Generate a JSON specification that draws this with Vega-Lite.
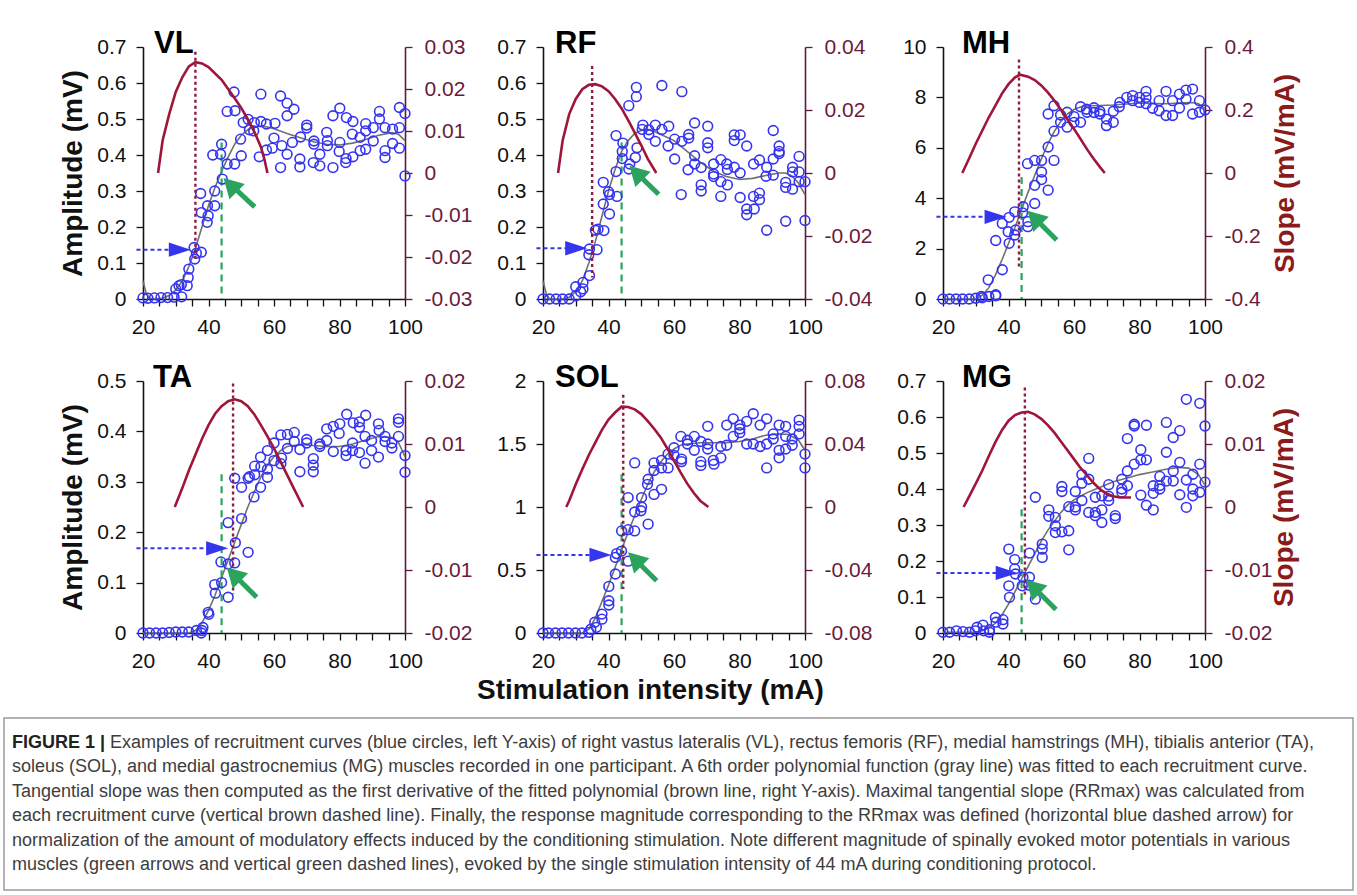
{
"$schema":"https://vega.github.io/schema/vega-lite/v6.json",
"background":"white",
"padding":{"left":3,"right":4,"top":28,"bottom":7},
"autosize":{"type":"pad"},
"config":{
 "view":{"stroke":null},
 "font":"Liberation Sans",
 "axis":{"grid":false,"labelFont":"Liberation Sans","labelFontSize":21,"labelColor":"#111","titleFont":"Liberation Sans","titleFontSize":28,"titleFontWeight":"bold","titleColor":"#111","domainColor":"#111","domainWidth":1.6,"tickColor":"#111","tickWidth":1.3,"tickSize":7,"labelPadding":10,"labelOverlap":false,"labelFlush":false,"tickCount":30},
 "axisX":{"labelFlush":false}
},
"datasets":{
"ann":[
{"m":"VL","rrx":36,"rrtop":0.687,"rrbot":0.106,"ay":0.137,"ax0":18,"ax1":31,"atip":34.6,"gx":44,"gtop":0.435,"gbot":0,"gtx":44.6,"gty":0.336,"gsx":54.1,"gsy":0.256,"gex":47.45,"gey":0.312},
{"m":"RF","rrx":35,"rrtop":0.647,"rrbot":0.06,"ay":0.141,"ax0":18,"ax1":30,"atip":33.5,"gx":44,"gtop":0.435,"gbot":0,"gtx":46.4,"gty":0.37,"gsx":55.3,"gsy":0.291,"gex":49.07,"gey":0.346},
{"m":"MH","rrx":43.2,"rrtop":9.5,"rrbot":1.29,"ay":3.26,"ax0":18,"ax1":36,"atip":39.4,"gx":44,"gtop":4.84,"gbot":0,"gtx":45.8,"gty":3.5,"gsx":54.7,"gsy":2.34,"gex":48.47,"gey":3.15},
{"m":"TA","rrx":47.5,"rrtop":0.495,"rrbot":0.077,"ay":0.168,"ax0":18,"ax1":42,"atip":46,"gx":44,"gtop":0.315,"gbot":0,"gtx":45.6,"gty":0.13,"gsx":54.7,"gsy":0.071,"gex":48.33,"gey":0.112},
{"m":"SOL","rrx":44.5,"rrtop":1.89,"rrbot":0.35,"ay":0.62,"ax0":18,"ax1":37,"atip":40.9,"gx":44,"gtop":1.26,"gbot":0,"gtx":46,"gty":0.64,"gsx":54.7,"gsy":0.415,"gex":48.61,"gey":0.572},
{"m":"MG","rrx":45,"rrtop":0.682,"rrbot":0.104,"ay":0.167,"ax0":18,"ax1":39,"atip":42.8,"gx":44,"gtop":0.344,"gbot":0,"gtx":45.4,"gty":0.148,"gsx":54.5,"gsy":0.065,"gex":48.13,"gey":0.123}
],
"fit":[
{"m":"VL","x":20,"y":0.05},{"m":"VL","x":21,"y":0.015},{"m":"VL","x":22,"y":0.002},{"m":"VL","x":24,"y":0},{"m":"VL","x":26,"y":0.003},{"m":"VL","x":28,"y":0.01},{"m":"VL","x":30,"y":0.025},{"m":"VL","x":32,"y":0.05},{"m":"VL","x":34,"y":0.09},{"m":"VL","x":36,"y":0.14},{"m":"VL","x":38,"y":0.2},{"m":"VL","x":40,"y":0.26},{"m":"VL","x":42,"y":0.31},{"m":"VL","x":44,"y":0.355},{"m":"VL","x":46,"y":0.395},{"m":"VL","x":48,"y":0.43},{"m":"VL","x":50,"y":0.455},{"m":"VL","x":52,"y":0.47},{"m":"VL","x":54,"y":0.478},{"m":"VL","x":56,"y":0.48},{"m":"VL","x":58,"y":0.478},{"m":"VL","x":60,"y":0.473},{"m":"VL","x":64,"y":0.46},{"m":"VL","x":68,"y":0.448},{"m":"VL","x":72,"y":0.437},{"m":"VL","x":76,"y":0.43},{"m":"VL","x":80,"y":0.428},{"m":"VL","x":84,"y":0.433},{"m":"VL","x":88,"y":0.443},{"m":"VL","x":92,"y":0.455},{"m":"VL","x":96,"y":0.462},{"m":"VL","x":98,"y":0.458},{"m":"VL","x":100,"y":0.44},
{"m":"RF","x":20,"y":0.05},{"m":"RF","x":21,"y":0.015},{"m":"RF","x":22,"y":0},{"m":"RF","x":26,"y":0},{"m":"RF","x":28,"y":0.005},{"m":"RF","x":30,"y":0.02},{"m":"RF","x":32,"y":0.05},{"m":"RF","x":34,"y":0.1},{"m":"RF","x":36,"y":0.16},{"m":"RF","x":38,"y":0.23},{"m":"RF","x":40,"y":0.3},{"m":"RF","x":42,"y":0.36},{"m":"RF","x":44,"y":0.41},{"m":"RF","x":46,"y":0.44},{"m":"RF","x":48,"y":0.46},{"m":"RF","x":50,"y":0.468},{"m":"RF","x":52,"y":0.47},{"m":"RF","x":54,"y":0.465},{"m":"RF","x":56,"y":0.457},{"m":"RF","x":60,"y":0.44},{"m":"RF","x":64,"y":0.41},{"m":"RF","x":68,"y":0.38},{"m":"RF","x":72,"y":0.355},{"m":"RF","x":76,"y":0.34},{"m":"RF","x":80,"y":0.332},{"m":"RF","x":84,"y":0.335},{"m":"RF","x":88,"y":0.343},{"m":"RF","x":92,"y":0.35},{"m":"RF","x":94,"y":0.35},{"m":"RF","x":96,"y":0.342},{"m":"RF","x":98,"y":0.322},{"m":"RF","x":100,"y":0.29},
{"m":"MH","x":20,"y":0},{"m":"MH","x":30,"y":0},{"m":"MH","x":32,"y":0.15},{"m":"MH","x":34,"y":0.45},{"m":"MH","x":36,"y":0.95},{"m":"MH","x":38,"y":1.55},{"m":"MH","x":40,"y":2.2},{"m":"MH","x":42,"y":2.85},{"m":"MH","x":44,"y":3.55},{"m":"MH","x":46,"y":4.25},{"m":"MH","x":48,"y":4.9},{"m":"MH","x":50,"y":5.55},{"m":"MH","x":52,"y":6.15},{"m":"MH","x":54,"y":6.65},{"m":"MH","x":56,"y":7.05},{"m":"MH","x":58,"y":7.35},{"m":"MH","x":60,"y":7.52},{"m":"MH","x":62,"y":7.62},{"m":"MH","x":64,"y":7.67},{"m":"MH","x":68,"y":7.68},{"m":"MH","x":72,"y":7.7},{"m":"MH","x":76,"y":7.74},{"m":"MH","x":80,"y":7.78},{"m":"MH","x":84,"y":7.76},{"m":"MH","x":88,"y":7.75},{"m":"MH","x":92,"y":7.78},{"m":"MH","x":96,"y":7.8},{"m":"MH","x":98,"y":7.75},{"m":"MH","x":100,"y":7.55},
{"m":"TA","x":20,"y":0},{"m":"TA","x":34,"y":0},{"m":"TA","x":36,"y":0.005},{"m":"TA","x":38,"y":0.02},{"m":"TA","x":40,"y":0.045},{"m":"TA","x":42,"y":0.075},{"m":"TA","x":44,"y":0.11},{"m":"TA","x":46,"y":0.145},{"m":"TA","x":48,"y":0.18},{"m":"TA","x":50,"y":0.215},{"m":"TA","x":52,"y":0.25},{"m":"TA","x":54,"y":0.28},{"m":"TA","x":56,"y":0.31},{"m":"TA","x":58,"y":0.333},{"m":"TA","x":60,"y":0.35},{"m":"TA","x":62,"y":0.362},{"m":"TA","x":64,"y":0.37},{"m":"TA","x":68,"y":0.374},{"m":"TA","x":72,"y":0.372},{"m":"TA","x":76,"y":0.37},{"m":"TA","x":80,"y":0.37},{"m":"TA","x":84,"y":0.375},{"m":"TA","x":88,"y":0.383},{"m":"TA","x":92,"y":0.39},{"m":"TA","x":96,"y":0.388},{"m":"TA","x":98,"y":0.378},{"m":"TA","x":100,"y":0.35},
{"m":"SOL","x":20,"y":0},{"m":"SOL","x":32,"y":0},{"m":"SOL","x":34,"y":0.03},{"m":"SOL","x":36,"y":0.12},{"m":"SOL","x":38,"y":0.25},{"m":"SOL","x":40,"y":0.38},{"m":"SOL","x":42,"y":0.52},{"m":"SOL","x":44,"y":0.66},{"m":"SOL","x":46,"y":0.8},{"m":"SOL","x":48,"y":0.93},{"m":"SOL","x":50,"y":1.06},{"m":"SOL","x":52,"y":1.18},{"m":"SOL","x":54,"y":1.28},{"m":"SOL","x":56,"y":1.36},{"m":"SOL","x":58,"y":1.42},{"m":"SOL","x":60,"y":1.46},{"m":"SOL","x":62,"y":1.49},{"m":"SOL","x":64,"y":1.5},{"m":"SOL","x":68,"y":1.51},{"m":"SOL","x":72,"y":1.51},{"m":"SOL","x":76,"y":1.51},{"m":"SOL","x":80,"y":1.52},{"m":"SOL","x":84,"y":1.54},{"m":"SOL","x":88,"y":1.57},{"m":"SOL","x":92,"y":1.58},{"m":"SOL","x":95,"y":1.575},{"m":"SOL","x":98,"y":1.53},{"m":"SOL","x":100,"y":1.45},
{"m":"MG","x":20,"y":0.002},{"m":"MG","x":30,"y":0.002},{"m":"MG","x":32,"y":0.006},{"m":"MG","x":34,"y":0.014},{"m":"MG","x":36,"y":0.027},{"m":"MG","x":38,"y":0.05},{"m":"MG","x":40,"y":0.08},{"m":"MG","x":42,"y":0.115},{"m":"MG","x":44,"y":0.15},{"m":"MG","x":46,"y":0.185},{"m":"MG","x":48,"y":0.22},{"m":"MG","x":50,"y":0.255},{"m":"MG","x":52,"y":0.285},{"m":"MG","x":54,"y":0.31},{"m":"MG","x":56,"y":0.335},{"m":"MG","x":58,"y":0.355},{"m":"MG","x":60,"y":0.37},{"m":"MG","x":62,"y":0.38},{"m":"MG","x":64,"y":0.39},{"m":"MG","x":68,"y":0.405},{"m":"MG","x":72,"y":0.42},{"m":"MG","x":76,"y":0.43},{"m":"MG","x":80,"y":0.44},{"m":"MG","x":84,"y":0.447},{"m":"MG","x":88,"y":0.455},{"m":"MG","x":92,"y":0.46},{"m":"MG","x":95,"y":0.458},{"m":"MG","x":98,"y":0.44},{"m":"MG","x":100,"y":0.41}
],
"slope":[
{"m":"VL","x":24.6,"s":0},{"m":"VL","x":26,"s":0.0078},{"m":"VL","x":28,"s":0.014},{"m":"VL","x":30,"s":0.0193},{"m":"VL","x":32,"s":0.0228},{"m":"VL","x":34,"s":0.0254},{"m":"VL","x":36,"s":0.0264},{"m":"VL","x":38,"s":0.0261},{"m":"VL","x":40,"s":0.0252},{"m":"VL","x":44,"s":0.0222},{"m":"VL","x":48,"s":0.0178},{"m":"VL","x":50,"s":0.0155},{"m":"VL","x":52,"s":0.0128},{"m":"VL","x":54,"s":0.0098},{"m":"VL","x":56,"s":0.0062},{"m":"VL","x":57,"s":0.0035},{"m":"VL","x":58,"s":0},
{"m":"RF","x":24.6,"s":0},{"m":"RF","x":26,"s":0.0103},{"m":"RF","x":28,"s":0.0187},{"m":"RF","x":30,"s":0.0235},{"m":"RF","x":32,"s":0.0266},{"m":"RF","x":34,"s":0.028},{"m":"RF","x":36,"s":0.0282},{"m":"RF","x":38,"s":0.0275},{"m":"RF","x":40,"s":0.026},{"m":"RF","x":42,"s":0.0235},{"m":"RF","x":44,"s":0.0205},{"m":"RF","x":46,"s":0.0168},{"m":"RF","x":48,"s":0.0128},{"m":"RF","x":50,"s":0.0088},{"m":"RF","x":52,"s":0.0045},{"m":"RF","x":54.6,"s":0},
{"m":"MH","x":25.9,"s":0},{"m":"MH","x":28,"s":0.047},{"m":"MH","x":30,"s":0.093},{"m":"MH","x":32,"s":0.135},{"m":"MH","x":34,"s":0.177},{"m":"MH","x":36,"s":0.214},{"m":"MH","x":38,"s":0.252},{"m":"MH","x":40,"s":0.282},{"m":"MH","x":42,"s":0.304},{"m":"MH","x":43.5,"s":0.312},{"m":"MH","x":46,"s":0.306},{"m":"MH","x":48,"s":0.295},{"m":"MH","x":50,"s":0.278},{"m":"MH","x":52,"s":0.256},{"m":"MH","x":54,"s":0.23},{"m":"MH","x":56,"s":0.201},{"m":"MH","x":58,"s":0.17},{"m":"MH","x":60,"s":0.14},{"m":"MH","x":62,"s":0.108},{"m":"MH","x":64,"s":0.075},{"m":"MH","x":66,"s":0.045},{"m":"MH","x":68,"s":0.018},{"m":"MH","x":69.4,"s":0},
{"m":"TA","x":29.7,"s":0},{"m":"TA","x":32,"s":0.003},{"m":"TA","x":34,"s":0.0058},{"m":"TA","x":36,"s":0.0083},{"m":"TA","x":38,"s":0.0108},{"m":"TA","x":40,"s":0.013},{"m":"TA","x":42,"s":0.0148},{"m":"TA","x":44,"s":0.016},{"m":"TA","x":46,"s":0.0168},{"m":"TA","x":48,"s":0.0171},{"m":"TA","x":50,"s":0.0168},{"m":"TA","x":52,"s":0.016},{"m":"TA","x":54,"s":0.0147},{"m":"TA","x":56,"s":0.013},{"m":"TA","x":58,"s":0.0112},{"m":"TA","x":60,"s":0.0093},{"m":"TA","x":62,"s":0.0072},{"m":"TA","x":64,"s":0.0051},{"m":"TA","x":66,"s":0.003},{"m":"TA","x":68.9,"s":0},
{"m":"SOL","x":27.1,"s":0},{"m":"SOL","x":28,"s":0.004},{"m":"SOL","x":30,"s":0.0145},{"m":"SOL","x":32,"s":0.024},{"m":"SOL","x":34,"s":0.033},{"m":"SOL","x":36,"s":0.041},{"m":"SOL","x":38,"s":0.049},{"m":"SOL","x":40,"s":0.0555},{"m":"SOL","x":42,"s":0.06},{"m":"SOL","x":44,"s":0.0637},{"m":"SOL","x":46,"s":0.0635},{"m":"SOL","x":48,"s":0.062},{"m":"SOL","x":50,"s":0.059},{"m":"SOL","x":52,"s":0.0545},{"m":"SOL","x":54,"s":0.0495},{"m":"SOL","x":56,"s":0.044},{"m":"SOL","x":58,"s":0.037},{"m":"SOL","x":60,"s":0.0295},{"m":"SOL","x":62,"s":0.022},{"m":"SOL","x":64,"s":0.015},{"m":"SOL","x":66,"s":0.009},{"m":"SOL","x":68,"s":0.004},{"m":"SOL","x":70.5,"s":0},
{"m":"MG","x":26.3,"s":0},{"m":"MG","x":28,"s":0.0017},{"m":"MG","x":30,"s":0.0037},{"m":"MG","x":32,"s":0.0058},{"m":"MG","x":34,"s":0.0081},{"m":"MG","x":36,"s":0.0103},{"m":"MG","x":38,"s":0.0122},{"m":"MG","x":40,"s":0.0137},{"m":"MG","x":42,"s":0.0146},{"m":"MG","x":44,"s":0.015},{"m":"MG","x":46,"s":0.0151},{"m":"MG","x":48,"s":0.0147},{"m":"MG","x":50,"s":0.014},{"m":"MG","x":52,"s":0.013},{"m":"MG","x":54,"s":0.0118},{"m":"MG","x":56,"s":0.0104},{"m":"MG","x":58,"s":0.009},{"m":"MG","x":60,"s":0.0076},{"m":"MG","x":62,"s":0.0062},{"m":"MG","x":64,"s":0.005},{"m":"MG","x":66,"s":0.0038},{"m":"MG","x":68,"s":0.0028},{"m":"MG","x":70,"s":0.0021},{"m":"MG","x":72,"s":0.0017},{"m":"MG","x":74,"s":0.0015},{"m":"MG","x":77.4,"s":0.0015}
],
"pts":[
{"m":"VL","x":20,"y":0.003},{"m":"VL","x":21.5,"y":0.002},{"m":"VL","x":23.5,"y":0.003},{"m":"VL","x":25.5,"y":0.004},{"m":"VL","x":27.5,"y":0.004},{"m":"VL","x":29.5,"y":0.005},{"m":"VL","x":31.8,"y":0.006},{"m":"VL","x":30,"y":0.028},{"m":"VL","x":31,"y":0.037},{"m":"VL","x":31.7,"y":0.04},{"m":"VL","x":33.5,"y":0.037},{"m":"VL","x":33.8,"y":0.06},{"m":"VL","x":34,"y":0.083},{"m":"VL","x":35.8,"y":0.111},{"m":"VL","x":35.6,"y":0.143},{"m":"VL","x":36.3,"y":0.127},{"m":"VL","x":37.8,"y":0.13},{"m":"VL","x":37.6,"y":0.293},{"m":"VL","x":37.8,"y":0.24},{"m":"VL","x":39.7,"y":0.259},{"m":"VL","x":39.9,"y":0.231},{"m":"VL","x":39.6,"y":0.213},{"m":"VL","x":41.9,"y":0.259},{"m":"VL","x":41.9,"y":0.3},{"m":"VL","x":41.3,"y":0.4},{"m":"VL","x":43.7,"y":0.402},{"m":"VL","x":44,"y":0.43},{"m":"VL","x":44.2,"y":0.333},{"m":"VL","x":45.7,"y":0.375},{"m":"VL","x":45.7,"y":0.521},{"m":"VL","x":47.8,"y":0.575},{"m":"VL","x":48.1,"y":0.523},{"m":"VL","x":48,"y":0.375},{"m":"VL","x":49.8,"y":0.444},{"m":"VL","x":50,"y":0.398},{"m":"VL","x":50.6,"y":0.49},{"m":"VL","x":52.1,"y":0.499},{"m":"VL","x":52.5,"y":0.47},{"m":"VL","x":53.8,"y":0.467},{"m":"VL","x":54,"y":0.49},{"m":"VL","x":56,"y":0.569},{"m":"VL","x":56,"y":0.493},{"m":"VL","x":57.7,"y":0.486},{"m":"VL","x":57.7,"y":0.414},{"m":"VL","x":55.5,"y":0.395},{"m":"VL","x":60.3,"y":0.488},{"m":"VL","x":60,"y":0.447},{"m":"VL","x":59.5,"y":0.419},{"m":"VL","x":62,"y":0.564},{"m":"VL","x":62.4,"y":0.426},{"m":"VL","x":62,"y":0.365},{"m":"VL","x":64,"y":0.544},{"m":"VL","x":64,"y":0.509},{"m":"VL","x":64,"y":0.402},{"m":"VL","x":65.6,"y":0.435},{"m":"VL","x":66.1,"y":0.527},{"m":"VL","x":67.9,"y":0.389},{"m":"VL","x":67.9,"y":0.367},{"m":"VL","x":68.1,"y":0.45},{"m":"VL","x":70,"y":0.483},{"m":"VL","x":70,"y":0.475},{"m":"VL","x":72.2,"y":0.439},{"m":"VL","x":72.2,"y":0.43},{"m":"VL","x":72,"y":0.379},{"m":"VL","x":74,"y":0.402},{"m":"VL","x":74,"y":0.37},{"m":"VL","x":76.1,"y":0.463},{"m":"VL","x":76.3,"y":0.426},{"m":"VL","x":76.3,"y":0.44},{"m":"VL","x":78,"y":0.509},{"m":"VL","x":78,"y":0.365},{"m":"VL","x":80.1,"y":0.53},{"m":"VL","x":80.1,"y":0.435},{"m":"VL","x":79.9,"y":0.41},{"m":"VL","x":82.1,"y":0.504},{"m":"VL","x":81.9,"y":0.379},{"m":"VL","x":82,"y":0.39},{"m":"VL","x":84.1,"y":0.493},{"m":"VL","x":83.9,"y":0.458},{"m":"VL","x":84.1,"y":0.395},{"m":"VL","x":86.3,"y":0.449},{"m":"VL","x":86.3,"y":0.412},{"m":"VL","x":88,"y":0.487},{"m":"VL","x":88,"y":0.467},{"m":"VL","x":88,"y":0.416},{"m":"VL","x":90.3,"y":0.476},{"m":"VL","x":90.3,"y":0.439},{"m":"VL","x":92.2,"y":0.521},{"m":"VL","x":92.2,"y":0.5},{"m":"VL","x":93.9,"y":0.476},{"m":"VL","x":93.9,"y":0.412},{"m":"VL","x":93.9,"y":0.393},{"m":"VL","x":96.2,"y":0.472},{"m":"VL","x":96.2,"y":0.432},{"m":"VL","x":98.3,"y":0.532},{"m":"VL","x":98.3,"y":0.476},{"m":"VL","x":98.3,"y":0.419},{"m":"VL","x":100,"y":0.515},{"m":"VL","x":100,"y":0.342},
{"m":"RF","x":20,"y":0},{"m":"RF","x":22,"y":0},{"m":"RF","x":24,"y":0},{"m":"RF","x":26,"y":0},{"m":"RF","x":28,"y":0},{"m":"RF","x":30,"y":0.009},{"m":"RF","x":30,"y":0.034},{"m":"RF","x":32.2,"y":0.046},{"m":"RF","x":32.2,"y":0.028},{"m":"RF","x":31.5,"y":0.02},{"m":"RF","x":34.2,"y":0.065},{"m":"RF","x":34,"y":0.123},{"m":"RF","x":34.2,"y":0.139},{"m":"RF","x":36.5,"y":0.137},{"m":"RF","x":36,"y":0.191},{"m":"RF","x":36.8,"y":0.194},{"m":"RF","x":38.6,"y":0.19},{"m":"RF","x":38.4,"y":0.264},{"m":"RF","x":38.4,"y":0.324},{"m":"RF","x":40.3,"y":0.29},{"m":"RF","x":40.3,"y":0.236},{"m":"RF","x":40,"y":0.298},{"m":"RF","x":42.6,"y":0.285},{"m":"RF","x":42.3,"y":0.354},{"m":"RF","x":42.3,"y":0.454},{"m":"RF","x":44.4,"y":0.433},{"m":"RF","x":44.2,"y":0.41},{"m":"RF","x":44.2,"y":0.39},{"m":"RF","x":46.2,"y":0.361},{"m":"RF","x":46.5,"y":0.375},{"m":"RF","x":48.2,"y":0.393},{"m":"RF","x":46.2,"y":0.537},{"m":"RF","x":48.5,"y":0.562},{"m":"RF","x":48.5,"y":0.588},{"m":"RF","x":48.7,"y":0.42},{"m":"RF","x":50.5,"y":0.483},{"m":"RF","x":50.3,"y":0.471},{"m":"RF","x":52.3,"y":0.457},{"m":"RF","x":52.3,"y":0.47},{"m":"RF","x":54.3,"y":0.483},{"m":"RF","x":54.3,"y":0.438},{"m":"RF","x":56.3,"y":0.471},{"m":"RF","x":56.3,"y":0.593},{"m":"RF","x":58.4,"y":0.48},{"m":"RF","x":58.2,"y":0.425},{"m":"RF","x":60.2,"y":0.444},{"m":"RF","x":60.2,"y":0.389},{"m":"RF","x":62.4,"y":0.438},{"m":"RF","x":62.2,"y":0.29},{"m":"RF","x":62.4,"y":0.576},{"m":"RF","x":64.5,"y":0.457},{"m":"RF","x":64.5,"y":0.447},{"m":"RF","x":64.3,"y":0.359},{"m":"RF","x":66.3,"y":0.489},{"m":"RF","x":66.3,"y":0.398},{"m":"RF","x":66.3,"y":0.375},{"m":"RF","x":68.3,"y":0.365},{"m":"RF","x":68.3,"y":0.317},{"m":"RF","x":68.3,"y":0.3},{"m":"RF","x":70.3,"y":0.48},{"m":"RF","x":70.3,"y":0.434},{"m":"RF","x":70.3,"y":0.42},{"m":"RF","x":72.1,"y":0.375},{"m":"RF","x":72.1,"y":0.347},{"m":"RF","x":72.1,"y":0.34},{"m":"RF","x":74.3,"y":0.387},{"m":"RF","x":74.3,"y":0.326},{"m":"RF","x":74.3,"y":0.285},{"m":"RF","x":76.1,"y":0.375},{"m":"RF","x":76.3,"y":0.317},{"m":"RF","x":76.3,"y":0.36},{"m":"RF","x":78.4,"y":0.456},{"m":"RF","x":78.4,"y":0.44},{"m":"RF","x":78.4,"y":0.366},{"m":"RF","x":80.2,"y":0.456},{"m":"RF","x":80.2,"y":0.35},{"m":"RF","x":80.2,"y":0.282},{"m":"RF","x":82.2,"y":0.425},{"m":"RF","x":82.2,"y":0.25},{"m":"RF","x":82.2,"y":0.234},{"m":"RF","x":84.3,"y":0.375},{"m":"RF","x":84.3,"y":0.285},{"m":"RF","x":84.5,"y":0.25},{"m":"RF","x":86.1,"y":0.386},{"m":"RF","x":86.1,"y":0.294},{"m":"RF","x":86.1,"y":0.276},{"m":"RF","x":88.3,"y":0.366},{"m":"RF","x":88.1,"y":0.341},{"m":"RF","x":88.3,"y":0.191},{"m":"RF","x":90.3,"y":0.468},{"m":"RF","x":90.3,"y":0.389},{"m":"RF","x":90.3,"y":0.344},{"m":"RF","x":92.1,"y":0.425},{"m":"RF","x":92.1,"y":0.404},{"m":"RF","x":92.1,"y":0.41},{"m":"RF","x":94.1,"y":0.324},{"m":"RF","x":94.1,"y":0.31},{"m":"RF","x":94.1,"y":0.216},{"m":"RF","x":96.2,"y":0.366},{"m":"RF","x":96.2,"y":0.353},{"m":"RF","x":96.2,"y":0.305},{"m":"RF","x":98.2,"y":0.396},{"m":"RF","x":98.2,"y":0.353},{"m":"RF","x":98.2,"y":0.326},{"m":"RF","x":100,"y":0.326},{"m":"RF","x":100,"y":0.218},
{"m":"MH","x":20,"y":0},{"m":"MH","x":22,"y":0},{"m":"MH","x":24,"y":0},{"m":"MH","x":26,"y":0},{"m":"MH","x":28,"y":0},{"m":"MH","x":30,"y":0.03},{"m":"MH","x":31.7,"y":0.1},{"m":"MH","x":32,"y":0.05},{"m":"MH","x":34,"y":0.1},{"m":"MH","x":36.1,"y":0.13},{"m":"MH","x":33.8,"y":0.76},{"m":"MH","x":36.1,"y":0.17},{"m":"MH","x":38.1,"y":1.16},{"m":"MH","x":36.1,"y":2.32},{"m":"MH","x":38.1,"y":3.0},{"m":"MH","x":40.2,"y":3.24},{"m":"MH","x":39.9,"y":2.67},{"m":"MH","x":40.2,"y":2.21},{"m":"MH","x":41.9,"y":3.46},{"m":"MH","x":42.2,"y":2.74},{"m":"MH","x":41.9,"y":2.54},{"m":"MH","x":44.5,"y":3.66},{"m":"MH","x":44.3,"y":3.42},{"m":"MH","x":45.9,"y":3.07},{"m":"MH","x":45.9,"y":2.87},{"m":"MH","x":45.8,"y":5.37},{"m":"MH","x":48,"y":5.5},{"m":"MH","x":48,"y":3.79},{"m":"MH","x":48,"y":4.51},{"m":"MH","x":50.1,"y":5.5},{"m":"MH","x":50.1,"y":5.04},{"m":"MH","x":50.1,"y":4.74},{"m":"MH","x":52.1,"y":6.03},{"m":"MH","x":52.1,"y":4.32},{"m":"MH","x":53.9,"y":5.5},{"m":"MH","x":53.9,"y":6.66},{"m":"MH","x":52.1,"y":7.34},{"m":"MH","x":53.9,"y":7.67},{"m":"MH","x":55.9,"y":7.01},{"m":"MH","x":55.9,"y":7.3},{"m":"MH","x":57.9,"y":7.41},{"m":"MH","x":57.9,"y":6.82},{"m":"MH","x":60,"y":7.24},{"m":"MH","x":60,"y":7.01},{"m":"MH","x":62,"y":7.63},{"m":"MH","x":62,"y":7.01},{"m":"MH","x":63.8,"y":7.53},{"m":"MH","x":64,"y":7.41},{"m":"MH","x":66.1,"y":7.59},{"m":"MH","x":66.1,"y":7.4},{"m":"MH","x":67.9,"y":7.45},{"m":"MH","x":67.9,"y":7.34},{"m":"MH","x":69.9,"y":7.14},{"m":"MH","x":69.9,"y":6.88},{"m":"MH","x":72,"y":7.45},{"m":"MH","x":72,"y":7.01},{"m":"MH","x":73.8,"y":7.63},{"m":"MH","x":74,"y":7.8},{"m":"MH","x":76.1,"y":8.0},{"m":"MH","x":77.9,"y":8.07},{"m":"MH","x":77.9,"y":7.87},{"m":"MH","x":80,"y":7.8},{"m":"MH","x":80,"y":8.0},{"m":"MH","x":82,"y":8.24},{"m":"MH","x":82,"y":8.0},{"m":"MH","x":82,"y":7.75},{"m":"MH","x":84,"y":7.57},{"m":"MH","x":86,"y":7.87},{"m":"MH","x":86,"y":7.47},{"m":"MH","x":88.1,"y":8.24},{"m":"MH","x":88.1,"y":7.28},{"m":"MH","x":90.1,"y":7.87},{"m":"MH","x":90.1,"y":7.28},{"m":"MH","x":92.2,"y":8.13},{"m":"MH","x":92.2,"y":7.58},{"m":"MH","x":94.2,"y":8.29},{"m":"MH","x":94.2,"y":7.93},{"m":"MH","x":96.2,"y":8.33},{"m":"MH","x":96.2,"y":7.34},{"m":"MH","x":98.3,"y":7.87},{"m":"MH","x":98.3,"y":7.41},{"m":"MH","x":100,"y":7.5},
{"m":"TA","x":20,"y":0},{"m":"TA","x":22,"y":0},{"m":"TA","x":24,"y":0},{"m":"TA","x":26,"y":0},{"m":"TA","x":28,"y":0.001},{"m":"TA","x":30,"y":0.002},{"m":"TA","x":32,"y":0.002},{"m":"TA","x":34,"y":0.002},{"m":"TA","x":36.3,"y":0.005},{"m":"TA","x":38,"y":0.005},{"m":"TA","x":38.3,"y":0.011},{"m":"TA","x":37.8,"y":0},{"m":"TA","x":39.9,"y":0.041},{"m":"TA","x":40.1,"y":0.037},{"m":"TA","x":42.1,"y":0.079},{"m":"TA","x":41.9,"y":0.096},{"m":"TA","x":44,"y":0.1},{"m":"TA","x":43.8,"y":0.141},{"m":"TA","x":46,"y":0.071},{"m":"TA","x":46,"y":0.137},{"m":"TA","x":46,"y":0.219},{"m":"TA","x":48,"y":0.139},{"m":"TA","x":48.2,"y":0.179},{"m":"TA","x":48,"y":0.307},{"m":"TA","x":50.1,"y":0.227},{"m":"TA","x":50.1,"y":0.289},{"m":"TA","x":52.1,"y":0.16},{"m":"TA","x":52.1,"y":0.307},{"m":"TA","x":52.5,"y":0.31},{"m":"TA","x":53.9,"y":0.27},{"m":"TA","x":54.1,"y":0.331},{"m":"TA","x":54.1,"y":0.314},{"m":"TA","x":55.9,"y":0.289},{"m":"TA","x":55.9,"y":0.349},{"m":"TA","x":56,"y":0.33},{"m":"TA","x":58,"y":0.309},{"m":"TA","x":58,"y":0.325},{"m":"TA","x":58,"y":0.362},{"m":"TA","x":60,"y":0.342},{"m":"TA","x":60,"y":0.377},{"m":"TA","x":62.3,"y":0.347},{"m":"TA","x":62.1,"y":0.336},{"m":"TA","x":62.1,"y":0.393},{"m":"TA","x":64.1,"y":0.394},{"m":"TA","x":64.1,"y":0.366},{"m":"TA","x":66.2,"y":0.398},{"m":"TA","x":66.2,"y":0.38},{"m":"TA","x":67.9,"y":0.364},{"m":"TA","x":67.9,"y":0.32},{"m":"TA","x":70,"y":0.384},{"m":"TA","x":70,"y":0.377},{"m":"TA","x":72,"y":0.346},{"m":"TA","x":72,"y":0.333},{"m":"TA","x":72,"y":0.32},{"m":"TA","x":74,"y":0.375},{"m":"TA","x":74,"y":0.37},{"m":"TA","x":76.1,"y":0.405},{"m":"TA","x":76.1,"y":0.382},{"m":"TA","x":78.1,"y":0.36},{"m":"TA","x":78.1,"y":0.41},{"m":"TA","x":80.1,"y":0.415},{"m":"TA","x":79.9,"y":0.396},{"m":"TA","x":82.2,"y":0.434},{"m":"TA","x":82,"y":0.362},{"m":"TA","x":82,"y":0.352},{"m":"TA","x":84.2,"y":0.417},{"m":"TA","x":84,"y":0.377},{"m":"TA","x":84,"y":0.362},{"m":"TA","x":86.1,"y":0.419},{"m":"TA","x":86.1,"y":0.408},{"m":"TA","x":86.1,"y":0.358},{"m":"TA","x":88,"y":0.432},{"m":"TA","x":87.8,"y":0.39},{"m":"TA","x":87.8,"y":0.337},{"m":"TA","x":89.8,"y":0.382},{"m":"TA","x":89.8,"y":0.362},{"m":"TA","x":91.9,"y":0.415},{"m":"TA","x":92.1,"y":0.402},{"m":"TA","x":91.9,"y":0.349},{"m":"TA","x":93.9,"y":0.39},{"m":"TA","x":93.9,"y":0.38},{"m":"TA","x":96,"y":0.377},{"m":"TA","x":96,"y":0.367},{"m":"TA","x":98,"y":0.425},{"m":"TA","x":98,"y":0.418},{"m":"TA","x":98,"y":0.39},{"m":"TA","x":100,"y":0.352},{"m":"TA","x":100,"y":0.319},
{"m":"SOL","x":20,"y":0},{"m":"SOL","x":21.7,"y":0},{"m":"SOL","x":23.8,"y":0},{"m":"SOL","x":25.8,"y":0},{"m":"SOL","x":27.8,"y":0},{"m":"SOL","x":29.9,"y":0},{"m":"SOL","x":31.9,"y":0},{"m":"SOL","x":34,"y":0.005},{"m":"SOL","x":34.6,"y":0.03},{"m":"SOL","x":35.8,"y":0.085},{"m":"SOL","x":36.3,"y":0.045},{"m":"SOL","x":38,"y":0.11},{"m":"SOL","x":38,"y":0.15},{"m":"SOL","x":40.1,"y":0.256},{"m":"SOL","x":40.1,"y":0.222},{"m":"SOL","x":40.1,"y":0.37},{"m":"SOL","x":42.1,"y":0.468},{"m":"SOL","x":42.1,"y":0.6},{"m":"SOL","x":42.5,"y":0.63},{"m":"SOL","x":44,"y":0.81},{"m":"SOL","x":44,"y":0.65},{"m":"SOL","x":46,"y":1.075},{"m":"SOL","x":46,"y":0.82},{"m":"SOL","x":46,"y":0.57},{"m":"SOL","x":48,"y":1.35},{"m":"SOL","x":48,"y":0.81},{"m":"SOL","x":48,"y":0.96},{"m":"SOL","x":49.9,"y":0.97},{"m":"SOL","x":50.1,"y":1.075},{"m":"SOL","x":50.1,"y":1.0},{"m":"SOL","x":51.9,"y":1.18},{"m":"SOL","x":52.1,"y":1.22},{"m":"SOL","x":52.1,"y":0.864},{"m":"SOL","x":53.9,"y":1.35},{"m":"SOL","x":53.9,"y":1.29},{"m":"SOL","x":53.9,"y":1.1},{"m":"SOL","x":56.2,"y":1.37},{"m":"SOL","x":56.2,"y":1.14},{"m":"SOL","x":56.2,"y":1.31},{"m":"SOL","x":58.2,"y":1.42},{"m":"SOL","x":58.2,"y":1.31},{"m":"SOL","x":60,"y":1.47},{"m":"SOL","x":60,"y":1.41},{"m":"SOL","x":62.1,"y":1.56},{"m":"SOL","x":62.3,"y":1.38},{"m":"SOL","x":62.3,"y":1.36},{"m":"SOL","x":64.1,"y":1.53},{"m":"SOL","x":64.1,"y":1.5},{"m":"SOL","x":66.2,"y":1.56},{"m":"SOL","x":66.2,"y":1.45},{"m":"SOL","x":68.2,"y":1.52},{"m":"SOL","x":68.2,"y":1.36},{"m":"SOL","x":68.2,"y":1.33},{"m":"SOL","x":70.3,"y":1.64},{"m":"SOL","x":70.3,"y":1.5},{"m":"SOL","x":70.3,"y":1.46},{"m":"SOL","x":72,"y":1.37},{"m":"SOL","x":72.2,"y":1.34},{"m":"SOL","x":74.3,"y":1.48},{"m":"SOL","x":74.3,"y":1.39},{"m":"SOL","x":76.1,"y":1.65},{"m":"SOL","x":76.1,"y":1.49},{"m":"SOL","x":78.1,"y":1.7},{"m":"SOL","x":78.1,"y":1.56},{"m":"SOL","x":80.1,"y":1.65},{"m":"SOL","x":80.1,"y":1.62},{"m":"SOL","x":80.1,"y":1.59},{"m":"SOL","x":82.2,"y":1.68},{"m":"SOL","x":82.2,"y":1.5},{"m":"SOL","x":84.2,"y":1.74},{"m":"SOL","x":84.2,"y":1.5},{"m":"SOL","x":86.3,"y":1.48},{"m":"SOL","x":86.3,"y":1.65},{"m":"SOL","x":88.3,"y":1.7},{"m":"SOL","x":88.3,"y":1.5},{"m":"SOL","x":88.3,"y":1.31},{"m":"SOL","x":90.3,"y":1.58},{"m":"SOL","x":90.3,"y":1.54},{"m":"SOL","x":92.1,"y":1.65},{"m":"SOL","x":92.1,"y":1.45},{"m":"SOL","x":92.1,"y":1.39},{"m":"SOL","x":94.1,"y":1.64},{"m":"SOL","x":94.1,"y":1.56},{"m":"SOL","x":94.1,"y":1.46},{"m":"SOL","x":96.1,"y":1.54},{"m":"SOL","x":96.1,"y":1.49},{"m":"SOL","x":98.2,"y":1.69},{"m":"SOL","x":98.2,"y":1.64},{"m":"SOL","x":98.2,"y":1.58},{"m":"SOL","x":100,"y":1.42},{"m":"SOL","x":100,"y":1.31},
{"m":"MG","x":20,"y":0.002},{"m":"MG","x":22,"y":0.002},{"m":"MG","x":24.1,"y":0.006},{"m":"MG","x":26.1,"y":0.004},{"m":"MG","x":28.1,"y":0.002},{"m":"MG","x":29.9,"y":0.006},{"m":"MG","x":30.4,"y":0.016},{"m":"MG","x":32.2,"y":0.022},{"m":"MG","x":32.4,"y":0.006},{"m":"MG","x":34.2,"y":0.002},{"m":"MG","x":34.2,"y":0.009},{"m":"MG","x":36,"y":0.043},{"m":"MG","x":36.2,"y":0.03},{"m":"MG","x":38.3,"y":0.037},{"m":"MG","x":38.3,"y":0.025},{"m":"MG","x":40.1,"y":0.233},{"m":"MG","x":40.1,"y":0.131},{"m":"MG","x":40.3,"y":0.099},{"m":"MG","x":41.9,"y":0.204},{"m":"MG","x":41.9,"y":0.178},{"m":"MG","x":42.1,"y":0.164},{"m":"MG","x":44.2,"y":0.131},{"m":"MG","x":44.4,"y":0.155},{"m":"MG","x":46.4,"y":0.222},{"m":"MG","x":46.4,"y":0.155},{"m":"MG","x":46.2,"y":0.133},{"m":"MG","x":48.2,"y":0.377},{"m":"MG","x":48.2,"y":0.094},{"m":"MG","x":50.3,"y":0.247},{"m":"MG","x":50.3,"y":0.233},{"m":"MG","x":50.3,"y":0.21},{"m":"MG","x":52.3,"y":0.342},{"m":"MG","x":52.3,"y":0.324},{"m":"MG","x":54.3,"y":0.321},{"m":"MG","x":54.3,"y":0.298},{"m":"MG","x":54.3,"y":0.279},{"m":"MG","x":56.3,"y":0.407},{"m":"MG","x":56.3,"y":0.393},{"m":"MG","x":56.3,"y":0.281},{"m":"MG","x":58.4,"y":0.351},{"m":"MG","x":58.4,"y":0.284},{"m":"MG","x":58.4,"y":0.231},{"m":"MG","x":60.4,"y":0.393},{"m":"MG","x":60.4,"y":0.35},{"m":"MG","x":60.4,"y":0.342},{"m":"MG","x":62.4,"y":0.44},{"m":"MG","x":62.4,"y":0.416},{"m":"MG","x":62.4,"y":0.368},{"m":"MG","x":64.5,"y":0.485},{"m":"MG","x":64.5,"y":0.427},{"m":"MG","x":64.5,"y":0.335},{"m":"MG","x":66.5,"y":0.377},{"m":"MG","x":66.5,"y":0.335},{"m":"MG","x":66.5,"y":0.326},{"m":"MG","x":68.5,"y":0.381},{"m":"MG","x":68.5,"y":0.342},{"m":"MG","x":68.5,"y":0.307},{"m":"MG","x":70.6,"y":0.412},{"m":"MG","x":70.6,"y":0.38},{"m":"MG","x":70.6,"y":0.368},{"m":"MG","x":72.6,"y":0.326},{"m":"MG","x":72.6,"y":0.318},{"m":"MG","x":74.6,"y":0.427},{"m":"MG","x":74.6,"y":0.4},{"m":"MG","x":74.6,"y":0.391},{"m":"MG","x":76.3,"y":0.45},{"m":"MG","x":76.3,"y":0.409},{"m":"MG","x":76.3,"y":0.54},{"m":"MG","x":78.4,"y":0.575},{"m":"MG","x":78.4,"y":0.58},{"m":"MG","x":78.4,"y":0.469},{"m":"MG","x":80.4,"y":0.509},{"m":"MG","x":80.4,"y":0.481},{"m":"MG","x":80.4,"y":0.383},{"m":"MG","x":82.1,"y":0.577},{"m":"MG","x":82.1,"y":0.481},{"m":"MG","x":82.1,"y":0.355},{"m":"MG","x":84.2,"y":0.409},{"m":"MG","x":84.2,"y":0.388},{"m":"MG","x":84.2,"y":0.342},{"m":"MG","x":86.2,"y":0.435},{"m":"MG","x":86.2,"y":0.41},{"m":"MG","x":86.2,"y":0.4},{"m":"MG","x":88.2,"y":0.585},{"m":"MG","x":88.2,"y":0.502},{"m":"MG","x":88.2,"y":0.422},{"m":"MG","x":90.3,"y":0.543},{"m":"MG","x":90.3,"y":0.45},{"m":"MG","x":90.3,"y":0.422},{"m":"MG","x":92.3,"y":0.562},{"m":"MG","x":92.3,"y":0.474},{"m":"MG","x":92.3,"y":0.384},{"m":"MG","x":94.3,"y":0.649},{"m":"MG","x":94.3,"y":0.425},{"m":"MG","x":94.3,"y":0.349},{"m":"MG","x":96.3,"y":0.441},{"m":"MG","x":96.3,"y":0.4},{"m":"MG","x":96.3,"y":0.381},{"m":"MG","x":98.4,"y":0.638},{"m":"MG","x":98.4,"y":0.469},{"m":"MG","x":98.4,"y":0.391},{"m":"MG","x":100,"y":0.575},{"m":"MG","x":100,"y":0.419}
],
"cap":[
{"i":0,"lead":"FIGURE 1 |","t":"Examples of recruitment curves (blue circles, left Y-axis) of right vastus lateralis (VL), rectus femoris (RF), medial hamstrings (MH), tibialis anterior (TA),"},
{"i":1,"lead":"","t":"soleus (SOL), and medial gastrocnemius (MG) muscles recorded in one participant. A 6th order polynomial function (gray line) was fitted to each recruitment curve."},
{"i":2,"lead":"","t":"Tangential slope was then computed as the first derivative of the fitted polynomial (brown line, right Y-axis). Maximal tangential slope (RRmax) was calculated from"},
{"i":3,"lead":"","t":"each recruitment curve (vertical brown dashed line). Finally, the response magnitude corresponding to the RRmax was defined (horizontal blue dashed arrow) for"},
{"i":4,"lead":"","t":"normalization of the amount of modulatory effects induced by the conditioning stimulation. Note different magnitude of spinally evoked motor potentials in various"},
{"i":5,"lead":"","t":"muscles (green arrows and vertical green dashed lines), evoked by the single stimulation intensity of 44 mA during conditioning protocol."}
]
},
"vconcat":[
{
"concat":[
{"width":1,"height":1,"data":{"values":[{"k":0}]},"mark":{"type":"rule","color":"white","strokeWidth":1},"encoding":{"x":{"datum":0,"type":"quantitative","scale":{"domain":[0,1]},"axis":null}}},
{"width":262,"height":252,"resolve":{"scale":{"y":"independent"}},"layer":[
 {"layer":[
  {"data":{"name":"fit"},"transform":[{"filter":"datum.m=='VL'"}],"mark":{"type":"line","color":"#707070","strokeWidth":1.6},"encoding":{"x":{"field":"x","type":"quantitative","scale":{"domain":[20,100],"nice":false,"zero":false},"axis":{"values":[20,25,30,35,40,45,50,55,60,65,70,75,80,85,90,95,100],"tickCount":30,"labelExpr":"datum.value % 20 == 0 ? datum.label : ''","labelOverlap":false,"title":null}},"y":{"field":"y","type":"quantitative","scale":{"domain":[0,0.7],"nice":false},"axis":{"values":[0,0.1,0.2,0.3,0.4,0.5,0.6,0.7],"tickCount":30,"labelExpr":"'' + datum.value","labelOverlap":false,"title":"Amplitude (mV)","titlePadding":9}}}},
  {"data":{"name":"ann"},"transform":[{"filter":"datum.m=='VL'"}],"mark":{"type":"rule","color":"#2ba35e","strokeWidth":2.2,"strokeDash":[7,5]},"encoding":{"x":{"field":"gx","type":"quantitative"},"y":{"field":"gtop","type":"quantitative"},"y2":{"field":"gbot"}}},
  {"data":{"name":"pts"},"transform":[{"filter":"datum.m=='VL'"}],"mark":{"type":"point","shape":"circle","filled":false,"size":95,"strokeWidth":1.6,"color":"#3434f0","opacity":1},"encoding":{"x":{"field":"x","type":"quantitative"},"y":{"field":"y","type":"quantitative"}}},
  {"data":{"name":"ann"},"transform":[{"filter":"datum.m=='VL'"}],"mark":{"type":"rule","color":"#8e1b40","strokeWidth":2.4,"strokeDash":[3,3]},"encoding":{"x":{"field":"rrx","type":"quantitative"},"y":{"field":"rrtop","type":"quantitative"},"y2":{"field":"rrbot"}}},
  {"data":{"name":"ann"},"transform":[{"filter":"datum.m=='VL'"}],"mark":{"type":"rule","color":"#3535ee","strokeWidth":2,"strokeDash":[4,3]},"encoding":{"x":{"field":"ax0","type":"quantitative"},"x2":{"field":"ax1"},"y":{"field":"ay","type":"quantitative"}}},
  {"data":{"name":"ann"},"transform":[{"filter":"datum.m=='VL'"}],"mark":{"type":"point","shape":"M-2,-0.65L0,0L-2,0.65Z","filled":true,"size":484,"color":"#3535ee","opacity":1,"strokeWidth":0},"encoding":{"x":{"field":"atip","type":"quantitative"},"y":{"field":"ay","type":"quantitative"}}},
  {"data":{"name":"ann"},"transform":[{"filter":"datum.m=='VL'"}],"mark":{"type":"rule","color":"#2ba35e","strokeWidth":5},"encoding":{"x":{"field":"gsx","type":"quantitative"},"y":{"field":"gsy","type":"quantitative"},"x2":{"field":"gex"},"y2":{"field":"gey"}}},
  {"data":{"name":"ann"},"transform":[{"filter":"datum.m=='VL'"}],"mark":{"type":"point","shape":"M0,0L1.77,0.49L0.49,1.77Z","filled":true,"size":576,"color":"#2ba35e","opacity":1,"strokeWidth":0},"encoding":{"x":{"field":"gtx","type":"quantitative"},"y":{"field":"gty","type":"quantitative"}}},
  {"data":{"name":"ann"},"transform":[{"filter":"datum.m=='VL'"}],"mark":{"type":"text","font":"Liberation Sans","fontSize":31,"fontWeight":"bold","align":"left","baseline":"alphabetic","dx":11,"dy":6,"color":"#000"},"encoding":{"x":{"datum":20,"type":"quantitative"},"y":{"datum":0.7,"type":"quantitative"},"text":{"field":"m"}}}
 ]},
 {"data":{"name":"slope"},"transform":[{"filter":"datum.m=='VL'"}],"mark":{"type":"line","color":"#a0163a","strokeWidth":2.6},"encoding":{"x":{"field":"x","type":"quantitative"},"y":{"field":"s","type":"quantitative","scale":{"domain":[-0.03,0.03],"nice":false},"axis":{"orient":"right","values":[-0.03,-0.02,-0.01,0,0.01,0.02,0.03],"tickCount":30,"labelExpr":"'' + datum.value","labelOverlap":false,"title":null,"labelColor":"#6b1a3a","domainColor":"#5e1a3e","tickColor":"#5e1a3e","labelPadding":12}}}}
]},
{"width":262,"height":252,"resolve":{"scale":{"y":"independent"}},"layer":[
 {"layer":[
  {"data":{"name":"fit"},"transform":[{"filter":"datum.m=='RF'"}],"mark":{"type":"line","color":"#707070","strokeWidth":1.6},"encoding":{"x":{"field":"x","type":"quantitative","scale":{"domain":[20,100],"nice":false,"zero":false},"axis":{"values":[20,25,30,35,40,45,50,55,60,65,70,75,80,85,90,95,100],"tickCount":30,"labelExpr":"datum.value % 20 == 0 ? datum.label : ''","labelOverlap":false,"title":null}},"y":{"field":"y","type":"quantitative","scale":{"domain":[0,0.7],"nice":false},"axis":{"values":[0,0.1,0.2,0.3,0.4,0.5,0.6,0.7],"tickCount":30,"labelExpr":"'' + datum.value","labelOverlap":false,"title":null}}}},
  {"data":{"name":"ann"},"transform":[{"filter":"datum.m=='RF'"}],"mark":{"type":"rule","color":"#2ba35e","strokeWidth":2.2,"strokeDash":[7,5]},"encoding":{"x":{"field":"gx","type":"quantitative"},"y":{"field":"gtop","type":"quantitative"},"y2":{"field":"gbot"}}},
  {"data":{"name":"pts"},"transform":[{"filter":"datum.m=='RF'"}],"mark":{"type":"point","shape":"circle","filled":false,"size":95,"strokeWidth":1.6,"color":"#3434f0","opacity":1},"encoding":{"x":{"field":"x","type":"quantitative"},"y":{"field":"y","type":"quantitative"}}},
  {"data":{"name":"ann"},"transform":[{"filter":"datum.m=='RF'"}],"mark":{"type":"rule","color":"#8e1b40","strokeWidth":2.4,"strokeDash":[3,3]},"encoding":{"x":{"field":"rrx","type":"quantitative"},"y":{"field":"rrtop","type":"quantitative"},"y2":{"field":"rrbot"}}},
  {"data":{"name":"ann"},"transform":[{"filter":"datum.m=='RF'"}],"mark":{"type":"rule","color":"#3535ee","strokeWidth":2,"strokeDash":[4,3]},"encoding":{"x":{"field":"ax0","type":"quantitative"},"x2":{"field":"ax1"},"y":{"field":"ay","type":"quantitative"}}},
  {"data":{"name":"ann"},"transform":[{"filter":"datum.m=='RF'"}],"mark":{"type":"point","shape":"M-2,-0.65L0,0L-2,0.65Z","filled":true,"size":484,"color":"#3535ee","opacity":1,"strokeWidth":0},"encoding":{"x":{"field":"atip","type":"quantitative"},"y":{"field":"ay","type":"quantitative"}}},
  {"data":{"name":"ann"},"transform":[{"filter":"datum.m=='RF'"}],"mark":{"type":"rule","color":"#2ba35e","strokeWidth":5},"encoding":{"x":{"field":"gsx","type":"quantitative"},"y":{"field":"gsy","type":"quantitative"},"x2":{"field":"gex"},"y2":{"field":"gey"}}},
  {"data":{"name":"ann"},"transform":[{"filter":"datum.m=='RF'"}],"mark":{"type":"point","shape":"M0,0L1.77,0.49L0.49,1.77Z","filled":true,"size":576,"color":"#2ba35e","opacity":1,"strokeWidth":0},"encoding":{"x":{"field":"gtx","type":"quantitative"},"y":{"field":"gty","type":"quantitative"}}},
  {"data":{"name":"ann"},"transform":[{"filter":"datum.m=='RF'"}],"mark":{"type":"text","font":"Liberation Sans","fontSize":31,"fontWeight":"bold","align":"left","baseline":"alphabetic","dx":12,"dy":6,"color":"#000"},"encoding":{"x":{"datum":20,"type":"quantitative"},"y":{"datum":0.7,"type":"quantitative"},"text":{"field":"m"}}}
 ]},
 {"data":{"name":"slope"},"transform":[{"filter":"datum.m=='RF'"}],"mark":{"type":"line","color":"#a0163a","strokeWidth":2.6},"encoding":{"x":{"field":"x","type":"quantitative"},"y":{"field":"s","type":"quantitative","scale":{"domain":[-0.04,0.04],"nice":false},"axis":{"orient":"right","values":[-0.04,-0.02,0,0.02,0.04],"tickCount":30,"labelExpr":"'' + datum.value","labelOverlap":false,"title":null,"labelColor":"#6b1a3a","domainColor":"#5e1a3e","tickColor":"#5e1a3e","labelPadding":12}}}}
]},
{"width":262,"height":252,"resolve":{"scale":{"y":"independent"}},"layer":[
 {"layer":[
  {"data":{"name":"fit"},"transform":[{"filter":"datum.m=='MH'"}],"mark":{"type":"line","color":"#707070","strokeWidth":1.6},"encoding":{"x":{"field":"x","type":"quantitative","scale":{"domain":[20,100],"nice":false,"zero":false},"axis":{"values":[20,25,30,35,40,45,50,55,60,65,70,75,80,85,90,95,100],"tickCount":30,"labelExpr":"datum.value % 20 == 0 ? datum.label : ''","labelOverlap":false,"title":null}},"y":{"field":"y","type":"quantitative","scale":{"domain":[0,10],"nice":false},"axis":{"values":[0,2,4,6,8,10],"tickCount":30,"labelExpr":"'' + datum.value","labelOverlap":false,"title":null}}}},
  {"data":{"name":"ann"},"transform":[{"filter":"datum.m=='MH'"}],"mark":{"type":"rule","color":"#2ba35e","strokeWidth":2.2,"strokeDash":[7,5]},"encoding":{"x":{"field":"gx","type":"quantitative"},"y":{"field":"gtop","type":"quantitative"},"y2":{"field":"gbot"}}},
  {"data":{"name":"pts"},"transform":[{"filter":"datum.m=='MH'"}],"mark":{"type":"point","shape":"circle","filled":false,"size":95,"strokeWidth":1.6,"color":"#3434f0","opacity":1},"encoding":{"x":{"field":"x","type":"quantitative"},"y":{"field":"y","type":"quantitative"}}},
  {"data":{"name":"ann"},"transform":[{"filter":"datum.m=='MH'"}],"mark":{"type":"rule","color":"#8e1b40","strokeWidth":2.4,"strokeDash":[3,3]},"encoding":{"x":{"field":"rrx","type":"quantitative"},"y":{"field":"rrtop","type":"quantitative"},"y2":{"field":"rrbot"}}},
  {"data":{"name":"ann"},"transform":[{"filter":"datum.m=='MH'"}],"mark":{"type":"rule","color":"#3535ee","strokeWidth":2,"strokeDash":[4,3]},"encoding":{"x":{"field":"ax0","type":"quantitative"},"x2":{"field":"ax1"},"y":{"field":"ay","type":"quantitative"}}},
  {"data":{"name":"ann"},"transform":[{"filter":"datum.m=='MH'"}],"mark":{"type":"point","shape":"M-2,-0.65L0,0L-2,0.65Z","filled":true,"size":484,"color":"#3535ee","opacity":1,"strokeWidth":0},"encoding":{"x":{"field":"atip","type":"quantitative"},"y":{"field":"ay","type":"quantitative"}}},
  {"data":{"name":"ann"},"transform":[{"filter":"datum.m=='MH'"}],"mark":{"type":"rule","color":"#2ba35e","strokeWidth":5},"encoding":{"x":{"field":"gsx","type":"quantitative"},"y":{"field":"gsy","type":"quantitative"},"x2":{"field":"gex"},"y2":{"field":"gey"}}},
  {"data":{"name":"ann"},"transform":[{"filter":"datum.m=='MH'"}],"mark":{"type":"point","shape":"M0,0L1.77,0.49L0.49,1.77Z","filled":true,"size":576,"color":"#2ba35e","opacity":1,"strokeWidth":0},"encoding":{"x":{"field":"gtx","type":"quantitative"},"y":{"field":"gty","type":"quantitative"}}},
  {"data":{"name":"ann"},"transform":[{"filter":"datum.m=='MH'"}],"mark":{"type":"text","font":"Liberation Sans","fontSize":31,"fontWeight":"bold","align":"left","baseline":"alphabetic","dx":19,"dy":6,"color":"#000"},"encoding":{"x":{"datum":20,"type":"quantitative"},"y":{"datum":10,"type":"quantitative"},"text":{"field":"m"}}}
 ]},
 {"data":{"name":"slope"},"transform":[{"filter":"datum.m=='MH'"}],"mark":{"type":"line","color":"#a0163a","strokeWidth":2.6},"encoding":{"x":{"field":"x","type":"quantitative"},"y":{"field":"s","type":"quantitative","scale":{"domain":[-0.4,0.4],"nice":false},"axis":{"orient":"right","values":[-0.4,-0.2,0,0.2,0.4],"tickCount":30,"labelExpr":"'' + datum.value","labelOverlap":false,"title":"Slope (mV/mA)","titleColor":"#8b1a1a","titleAngle":-90,"titleBaseline":"top","titlePadding":11,"labelColor":"#6b1a3a","domainColor":"#5e1a3e","tickColor":"#5e1a3e","labelPadding":12}}}}
]},
{"width":1,"height":1,"data":{"values":[{"k":0}]},"mark":{"type":"rule","color":"white","strokeWidth":1},"encoding":{"x":{"datum":0,"type":"quantitative","scale":{"domain":[0,1]},"axis":null}}},
{"width":262,"height":252,"resolve":{"scale":{"y":"independent"}},"layer":[
 {"layer":[
  {"data":{"name":"fit"},"transform":[{"filter":"datum.m=='TA'"}],"mark":{"type":"line","color":"#707070","strokeWidth":1.6},"encoding":{"x":{"field":"x","type":"quantitative","scale":{"domain":[20,100],"nice":false,"zero":false},"axis":{"values":[20,25,30,35,40,45,50,55,60,65,70,75,80,85,90,95,100],"tickCount":30,"labelExpr":"datum.value % 20 == 0 ? datum.label : ''","labelOverlap":false,"title":null}},"y":{"field":"y","type":"quantitative","scale":{"domain":[0,0.5],"nice":false},"axis":{"values":[0,0.1,0.2,0.3,0.4,0.5],"tickCount":30,"labelExpr":"'' + datum.value","labelOverlap":false,"title":"Amplitude (mV)","titlePadding":9}}}},
  {"data":{"name":"ann"},"transform":[{"filter":"datum.m=='TA'"}],"mark":{"type":"rule","color":"#2ba35e","strokeWidth":2.2,"strokeDash":[7,5]},"encoding":{"x":{"field":"gx","type":"quantitative"},"y":{"field":"gtop","type":"quantitative"},"y2":{"field":"gbot"}}},
  {"data":{"name":"pts"},"transform":[{"filter":"datum.m=='TA'"}],"mark":{"type":"point","shape":"circle","filled":false,"size":95,"strokeWidth":1.6,"color":"#3434f0","opacity":1},"encoding":{"x":{"field":"x","type":"quantitative"},"y":{"field":"y","type":"quantitative"}}},
  {"data":{"name":"ann"},"transform":[{"filter":"datum.m=='TA'"}],"mark":{"type":"rule","color":"#8e1b40","strokeWidth":2.4,"strokeDash":[3,3]},"encoding":{"x":{"field":"rrx","type":"quantitative"},"y":{"field":"rrtop","type":"quantitative"},"y2":{"field":"rrbot"}}},
  {"data":{"name":"ann"},"transform":[{"filter":"datum.m=='TA'"}],"mark":{"type":"rule","color":"#3535ee","strokeWidth":2,"strokeDash":[4,3]},"encoding":{"x":{"field":"ax0","type":"quantitative"},"x2":{"field":"ax1"},"y":{"field":"ay","type":"quantitative"}}},
  {"data":{"name":"ann"},"transform":[{"filter":"datum.m=='TA'"}],"mark":{"type":"point","shape":"M-2,-0.65L0,0L-2,0.65Z","filled":true,"size":484,"color":"#3535ee","opacity":1,"strokeWidth":0},"encoding":{"x":{"field":"atip","type":"quantitative"},"y":{"field":"ay","type":"quantitative"}}},
  {"data":{"name":"ann"},"transform":[{"filter":"datum.m=='TA'"}],"mark":{"type":"rule","color":"#2ba35e","strokeWidth":5},"encoding":{"x":{"field":"gsx","type":"quantitative"},"y":{"field":"gsy","type":"quantitative"},"x2":{"field":"gex"},"y2":{"field":"gey"}}},
  {"data":{"name":"ann"},"transform":[{"filter":"datum.m=='TA'"}],"mark":{"type":"point","shape":"M0,0L1.77,0.49L0.49,1.77Z","filled":true,"size":576,"color":"#2ba35e","opacity":1,"strokeWidth":0},"encoding":{"x":{"field":"gtx","type":"quantitative"},"y":{"field":"gty","type":"quantitative"}}},
  {"data":{"name":"ann"},"transform":[{"filter":"datum.m=='TA'"}],"mark":{"type":"text","font":"Liberation Sans","fontSize":31,"fontWeight":"bold","align":"left","baseline":"alphabetic","dx":10,"dy":6,"color":"#000"},"encoding":{"x":{"datum":20,"type":"quantitative"},"y":{"datum":0.5,"type":"quantitative"},"text":{"field":"m"}}}
 ]},
 {"data":{"name":"slope"},"transform":[{"filter":"datum.m=='TA'"}],"mark":{"type":"line","color":"#a0163a","strokeWidth":2.6},"encoding":{"x":{"field":"x","type":"quantitative"},"y":{"field":"s","type":"quantitative","scale":{"domain":[-0.02,0.02],"nice":false},"axis":{"orient":"right","values":[-0.02,-0.01,0,0.01,0.02],"tickCount":30,"labelExpr":"'' + datum.value","labelOverlap":false,"title":null,"labelColor":"#6b1a3a","domainColor":"#5e1a3e","tickColor":"#5e1a3e","labelPadding":12}}}}
]},
{"width":262,"height":252,"resolve":{"scale":{"y":"independent"}},"layer":[
 {"layer":[
  {"data":{"name":"fit"},"transform":[{"filter":"datum.m=='SOL'"}],"mark":{"type":"line","color":"#707070","strokeWidth":1.6},"encoding":{"x":{"field":"x","type":"quantitative","scale":{"domain":[20,100],"nice":false,"zero":false},"axis":{"values":[20,25,30,35,40,45,50,55,60,65,70,75,80,85,90,95,100],"tickCount":30,"labelExpr":"datum.value % 20 == 0 ? datum.label : ''","labelOverlap":false,"title":"Stimulation intensity (mA)","titleX":107,"titleY":43}},"y":{"field":"y","type":"quantitative","scale":{"domain":[0,2],"nice":false},"axis":{"values":[0,0.5,1,1.5,2],"tickCount":30,"labelExpr":"'' + datum.value","labelOverlap":false,"title":null}}}},
  {"data":{"name":"ann"},"transform":[{"filter":"datum.m=='SOL'"}],"mark":{"type":"rule","color":"#2ba35e","strokeWidth":2.2,"strokeDash":[7,5]},"encoding":{"x":{"field":"gx","type":"quantitative"},"y":{"field":"gtop","type":"quantitative"},"y2":{"field":"gbot"}}},
  {"data":{"name":"pts"},"transform":[{"filter":"datum.m=='SOL'"}],"mark":{"type":"point","shape":"circle","filled":false,"size":95,"strokeWidth":1.6,"color":"#3434f0","opacity":1},"encoding":{"x":{"field":"x","type":"quantitative"},"y":{"field":"y","type":"quantitative"}}},
  {"data":{"name":"ann"},"transform":[{"filter":"datum.m=='SOL'"}],"mark":{"type":"rule","color":"#8e1b40","strokeWidth":2.4,"strokeDash":[3,3]},"encoding":{"x":{"field":"rrx","type":"quantitative"},"y":{"field":"rrtop","type":"quantitative"},"y2":{"field":"rrbot"}}},
  {"data":{"name":"ann"},"transform":[{"filter":"datum.m=='SOL'"}],"mark":{"type":"rule","color":"#3535ee","strokeWidth":2,"strokeDash":[4,3]},"encoding":{"x":{"field":"ax0","type":"quantitative"},"x2":{"field":"ax1"},"y":{"field":"ay","type":"quantitative"}}},
  {"data":{"name":"ann"},"transform":[{"filter":"datum.m=='SOL'"}],"mark":{"type":"point","shape":"M-2,-0.65L0,0L-2,0.65Z","filled":true,"size":484,"color":"#3535ee","opacity":1,"strokeWidth":0},"encoding":{"x":{"field":"atip","type":"quantitative"},"y":{"field":"ay","type":"quantitative"}}},
  {"data":{"name":"ann"},"transform":[{"filter":"datum.m=='SOL'"}],"mark":{"type":"rule","color":"#2ba35e","strokeWidth":5},"encoding":{"x":{"field":"gsx","type":"quantitative"},"y":{"field":"gsy","type":"quantitative"},"x2":{"field":"gex"},"y2":{"field":"gey"}}},
  {"data":{"name":"ann"},"transform":[{"filter":"datum.m=='SOL'"}],"mark":{"type":"point","shape":"M0,0L1.77,0.49L0.49,1.77Z","filled":true,"size":576,"color":"#2ba35e","opacity":1,"strokeWidth":0},"encoding":{"x":{"field":"gtx","type":"quantitative"},"y":{"field":"gty","type":"quantitative"}}},
  {"data":{"name":"ann"},"transform":[{"filter":"datum.m=='SOL'"}],"mark":{"type":"text","font":"Liberation Sans","fontSize":31,"fontWeight":"bold","align":"left","baseline":"alphabetic","dx":12,"dy":6,"color":"#000"},"encoding":{"x":{"datum":20,"type":"quantitative"},"y":{"datum":2,"type":"quantitative"},"text":{"field":"m"}}}
 ]},
 {"data":{"name":"slope"},"transform":[{"filter":"datum.m=='SOL'"}],"mark":{"type":"line","color":"#a0163a","strokeWidth":2.6},"encoding":{"x":{"field":"x","type":"quantitative"},"y":{"field":"s","type":"quantitative","scale":{"domain":[-0.08,0.08],"nice":false},"axis":{"orient":"right","values":[-0.08,-0.04,0,0.04,0.08],"tickCount":30,"labelExpr":"'' + datum.value","labelOverlap":false,"title":null,"labelColor":"#6b1a3a","domainColor":"#5e1a3e","tickColor":"#5e1a3e","labelPadding":12}}}}
]},
{"width":262,"height":252,"resolve":{"scale":{"y":"independent"}},"layer":[
 {"layer":[
  {"data":{"name":"fit"},"transform":[{"filter":"datum.m=='MG'"}],"mark":{"type":"line","color":"#707070","strokeWidth":1.6},"encoding":{"x":{"field":"x","type":"quantitative","scale":{"domain":[20,100],"nice":false,"zero":false},"axis":{"values":[20,25,30,35,40,45,50,55,60,65,70,75,80,85,90,95,100],"tickCount":30,"labelExpr":"datum.value % 20 == 0 ? datum.label : ''","labelOverlap":false,"title":null}},"y":{"field":"y","type":"quantitative","scale":{"domain":[0,0.7],"nice":false},"axis":{"values":[0,0.1,0.2,0.3,0.4,0.5,0.6,0.7],"tickCount":30,"labelExpr":"'' + datum.value","labelOverlap":false,"title":null}}}},
  {"data":{"name":"ann"},"transform":[{"filter":"datum.m=='MG'"}],"mark":{"type":"rule","color":"#2ba35e","strokeWidth":2.2,"strokeDash":[7,5]},"encoding":{"x":{"field":"gx","type":"quantitative"},"y":{"field":"gtop","type":"quantitative"},"y2":{"field":"gbot"}}},
  {"data":{"name":"pts"},"transform":[{"filter":"datum.m=='MG'"}],"mark":{"type":"point","shape":"circle","filled":false,"size":95,"strokeWidth":1.6,"color":"#3434f0","opacity":1},"encoding":{"x":{"field":"x","type":"quantitative"},"y":{"field":"y","type":"quantitative"}}},
  {"data":{"name":"ann"},"transform":[{"filter":"datum.m=='MG'"}],"mark":{"type":"rule","color":"#8e1b40","strokeWidth":2.4,"strokeDash":[3,3]},"encoding":{"x":{"field":"rrx","type":"quantitative"},"y":{"field":"rrtop","type":"quantitative"},"y2":{"field":"rrbot"}}},
  {"data":{"name":"ann"},"transform":[{"filter":"datum.m=='MG'"}],"mark":{"type":"rule","color":"#3535ee","strokeWidth":2,"strokeDash":[4,3]},"encoding":{"x":{"field":"ax0","type":"quantitative"},"x2":{"field":"ax1"},"y":{"field":"ay","type":"quantitative"}}},
  {"data":{"name":"ann"},"transform":[{"filter":"datum.m=='MG'"}],"mark":{"type":"point","shape":"M-2,-0.65L0,0L-2,0.65Z","filled":true,"size":484,"color":"#3535ee","opacity":1,"strokeWidth":0},"encoding":{"x":{"field":"atip","type":"quantitative"},"y":{"field":"ay","type":"quantitative"}}},
  {"data":{"name":"ann"},"transform":[{"filter":"datum.m=='MG'"}],"mark":{"type":"rule","color":"#2ba35e","strokeWidth":5},"encoding":{"x":{"field":"gsx","type":"quantitative"},"y":{"field":"gsy","type":"quantitative"},"x2":{"field":"gex"},"y2":{"field":"gey"}}},
  {"data":{"name":"ann"},"transform":[{"filter":"datum.m=='MG'"}],"mark":{"type":"point","shape":"M0,0L1.77,0.49L0.49,1.77Z","filled":true,"size":576,"color":"#2ba35e","opacity":1,"strokeWidth":0},"encoding":{"x":{"field":"gtx","type":"quantitative"},"y":{"field":"gty","type":"quantitative"}}},
  {"data":{"name":"ann"},"transform":[{"filter":"datum.m=='MG'"}],"mark":{"type":"text","font":"Liberation Sans","fontSize":31,"fontWeight":"bold","align":"left","baseline":"alphabetic","dx":19,"dy":6,"color":"#000"},"encoding":{"x":{"datum":20,"type":"quantitative"},"y":{"datum":0.7,"type":"quantitative"},"text":{"field":"m"}}}
 ]},
 {"data":{"name":"slope"},"transform":[{"filter":"datum.m=='MG'"}],"mark":{"type":"line","color":"#a0163a","strokeWidth":2.6},"encoding":{"x":{"field":"x","type":"quantitative"},"y":{"field":"s","type":"quantitative","scale":{"domain":[-0.02,0.02],"nice":false},"axis":{"orient":"right","values":[-0.02,-0.01,0,0.01,0.02],"tickCount":30,"labelExpr":"'' + datum.value","labelOverlap":false,"title":"Slope (mV/mA)","titleColor":"#8b1a1a","titleAngle":-90,"titleBaseline":"top","titlePadding":-1,"labelColor":"#6b1a3a","domainColor":"#5e1a3e","tickColor":"#5e1a3e","labelPadding":12}}}}
]}
],
"columns":4,
"spacing":{"row":82,"column":138},
"bounds":"flush"
},
{
"width":1349,"height":172,
"view":{"stroke":"#9a9a9a","strokeWidth":1.5},
"data":{"name":"cap"},
"encoding":{
 "x":{"datum":0,"type":"quantitative","scale":{"domain":[0,1]},"axis":null},
 "y":{"field":"i","type":"ordinal","axis":null,"scale":{"domain":[0,1,2,3,4,5],"padding":1.05}}
},
"layer":[
 {"transform":[{"filter":"datum.i == 0"}],"mark":{"type":"text","font":"Liberation Sans","fontSize":18,"fontWeight":"bold","align":"left","baseline":"middle","dx":8,"color":"#222"},"encoding":{"text":{"field":"lead"}}},
 {"transform":[{"filter":"datum.i == 0"}],"mark":{"type":"text","font":"Liberation Sans","fontSize":18,"align":"left","baseline":"middle","dx":106,"color":"#3d3d3d"},"encoding":{"text":{"field":"t"}}},
 {"transform":[{"filter":"datum.i > 0"}],"mark":{"type":"text","font":"Liberation Sans","fontSize":18,"align":"left","baseline":"middle","dx":8,"color":"#3d3d3d"},"encoding":{"text":{"field":"t"}}}
]
}
],
"spacing":13
}
